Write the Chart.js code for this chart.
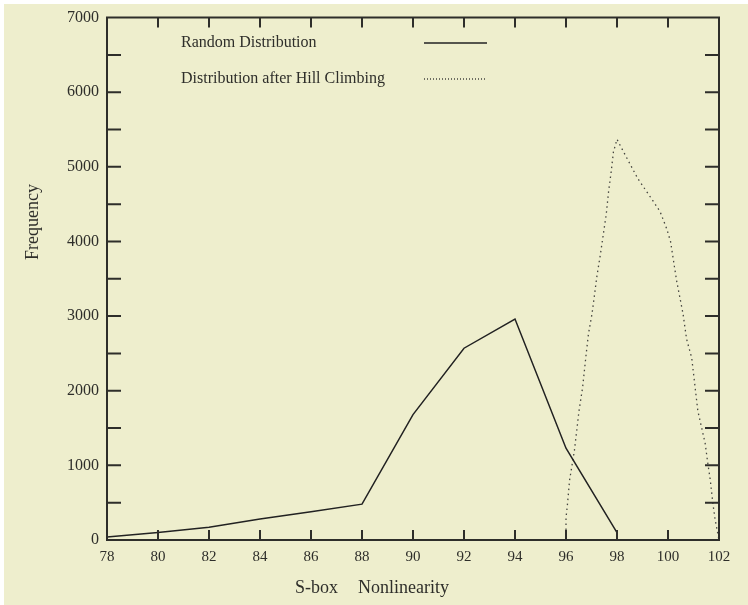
<!DOCTYPE html>
<html>
<head>
<meta charset="utf-8">
<script src="https://cdn.jsdelivr.net/npm/chart.js@4.4.1/dist/chart.umd.min.js"></script>
<style>
html,body{margin:0;padding:0;background:#ffffff;}
canvas{display:block;}
</style>
</head>
<body>
<canvas id="c" width="748" height="605"></canvas>
<script>
// ---- data ----
const randomX = [78, 80, 82, 84, 86, 88, 90, 92, 94, 96, 98];
const randomY = [40, 100, 170, 280, 380, 480, 1680, 2570, 2960, 1230, 100];

const hillX = [96.0, 96.0, 96.05, 96.14, 96.33, 96.51, 96.65, 96.79, 96.88, 97.02, 97.12, 97.21, 97.35,
               97.58, 97.67, 97.77, 97.86, 98.0, 98.15, 98.46, 98.82, 99.08, 99.44, 99.69, 99.95,
               100.1, 100.24, 100.34, 100.59, 100.73, 100.93, 101.17, 101.46, 101.56, 101.66, 101.76,
               101.85, 101.95, 102.0];
const hillY = [0, 300, 450, 800, 1200, 1730, 2040, 2490, 2760, 3030, 3290, 3530, 3830,
               4370, 4670, 4930, 5200, 5370, 5270, 5070, 4840, 4710, 4530, 4400, 4170,
               4000, 3690, 3470, 3030, 2690, 2440, 1730, 1290, 1030, 800, 490,
               270, 90, 0];

const seriesLabels = ["Random Distribution", "Distribution after Hill Climbing"];
const xTitleParts = ["S-box", "Nonlinearity"];
const yTitle = "Frequency";
const xMin = 78, xMax = 102, xStep = 2;
const yMin = 0, yMax = 7000, yStep = 1000, yMinorStep = 500;

const toPts = (xs, ys) => xs.map((x, i) => ({x: x, y: ys[i]}));

const INK = '#2e2e2a';
const FONT = '"Liberation Serif", "Times New Roman", serif';

const decor = {
  id: 'decor',
  beforeDraw(chart) {
    const ctx = chart.ctx;
    ctx.save();
    ctx.fillStyle = '#ffffff';
    ctx.fillRect(0, 0, chart.width, chart.height);
    ctx.fillStyle = '#eeeecd';
    ctx.fillRect(4, 4, chart.width - 4, chart.height - 4);
    ctx.restore();
  },
  afterDraw(chart) {
    const ctx = chart.ctx;
    const a = chart.chartArea;
    const xs = chart.scales.x, ys = chart.scales.y;
    ctx.save();
    ctx.strokeStyle = INK;
    ctx.lineWidth = 2;
    // frame
    ctx.beginPath();
    ctx.rect(a.left, a.top, a.right - a.left, a.bottom - a.top);
    ctx.stroke();
    // inward ticks
    ctx.beginPath();
    for (let v = yMin + yMinorStep; v < yMax; v += yMinorStep) {
      const py = ys.getPixelForValue(v);
      ctx.moveTo(a.left, py); ctx.lineTo(a.left + 14, py);
      ctx.moveTo(a.right, py); ctx.lineTo(a.right - 14, py);
    }
    for (let v = xMin + xStep; v < xMax; v += xStep) {
      const px = xs.getPixelForValue(v);
      ctx.moveTo(px, a.bottom); ctx.lineTo(px, a.bottom - 10);
      ctx.moveTo(px, a.top); ctx.lineTo(px, a.top + 10);
    }
    ctx.stroke();

    // axis titles
    ctx.fillStyle = INK;
    ctx.font = '18px ' + FONT;
    ctx.textBaseline = 'middle';
    ctx.textAlign = 'left';
    ctx.fillText(xTitleParts[0], 295, 588);
    ctx.fillText(xTitleParts[1], 358, 588);
    ctx.save();
    ctx.translate(33, 222);
    ctx.rotate(-Math.PI / 2);
    ctx.textAlign = 'center';
    ctx.fillText(yTitle, 0, 0);
    ctx.restore();

    // legend
    ctx.font = '16px ' + FONT;
    ctx.textAlign = 'left';
    const rows = [43, 79];
    chart.data.datasets.forEach((ds, i) => {
      const yy = rows[i];
      ctx.fillStyle = INK;
      ctx.fillText(ds.label, 181, yy);
      ctx.strokeStyle = ds.borderColor;
      ctx.lineWidth = ds.borderWidth;
      ctx.setLineDash(i === 1 ? [1, 2] : []);
      ctx.beginPath();
      ctx.moveTo(424, yy); ctx.lineTo(487, yy);
      ctx.stroke();
      ctx.setLineDash([]);
    });
    ctx.restore();
  }
};

new Chart(document.getElementById('c'), {
  type: 'line',
  data: {
    datasets: [
      {
        label: seriesLabels[0],
        data: toPts(randomX, randomY),
        borderColor: '#222222',
        borderWidth: 1.5,
        pointRadius: 0,
        tension: 0,
        fill: false
      },
      {
        label: seriesLabels[1],
        data: toPts(hillX, hillY),
        borderColor: '#44443f',
        borderWidth: 1.3,
        borderDash: [1.5, 3.5],
        pointRadius: 0,
        tension: 0,
        fill: false
      }
    ]
  },
  options: {
    responsive: false,
    animation: false,
    devicePixelRatio: 1,
    layout: { padding: { left: 0, right: 29, top: 13, bottom: 0 } },
    plugins: { legend: { display: false }, title: { display: false }, tooltip: { enabled: false } },
    scales: {
      x: {
        type: 'linear',
        min: xMin, max: xMax,
        grid: { display: false, drawTicks: false },
        border: { display: false },
        ticks: { stepSize: xStep, padding: 8, color: INK, font: { family: FONT, size: 15 }, maxRotation: 0,
                 callback: v => String(v) },
        afterFit(s) { s.height = 65; }
      },
      y: {
        type: 'linear',
        min: yMin, max: yMax,
        grid: { display: false, drawTicks: false },
        border: { display: false },
        ticks: { stepSize: yStep, padding: 8, color: INK, font: { family: FONT, size: 16 },
                 callback: v => String(v) },
        afterFit(s) { s.width = 107; }
      }
    }
  },
  plugins: [decor]
});
</script>
</body>
</html>
